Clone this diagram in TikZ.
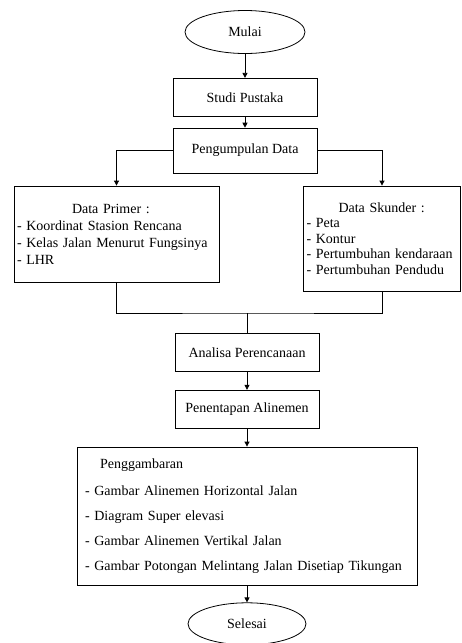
\documentclass[tikz,border=0pt]{standalone}
\usepackage{fontspec}
\setmainfont{Liberation Serif}
\usetikzlibrary{arrows.meta, positioning, shapes.geometric}

\begin{document}
\begin{tikzpicture}[
x=1pt, y=-1pt,
font=\fontsize{14}{17}\selectfont,
every path/.style={line width=0.8pt},
box/.style={draw, rectangle, minimum width=144pt, minimum height=38pt, inner sep=2pt, align=center},
listbox/.style={draw, rectangle, inner xsep=3pt, align=left},
terminal/.style={draw, ellipse, minimum width=120pt, minimum height=43pt, inner sep=0pt},
arrow/.style={-{Triangle[length=5pt, width=5pt]}} ]

\useasboundingbox (0,0) rectangle (462,643);

\node[terminal] (mulai) at (245,32) {Mulai};
\node[box, below=24pt of mulai] (studi) {Studi Pustaka};
\node[box, below=11pt of studi, minimum height=45pt] (kumpul) {Pengumpulan Data};

\node[listbox, minimum width=205pt, minimum height=96pt, text width=199pt] (primer) at (116.5,234)
{\hspace*{55pt}Data Primer :\\ - Koordinat Stasion Rencana\\ - Kelas Jalan Menurut Fungsinya\\ - LHR};
\node[listbox, minimum width=157pt, minimum height=105pt, text width=151pt,
 font=\fontsize{14}{15.5}\selectfont] (skunder) at (382,238.5)
{\hspace*{32pt}Data Skunder :\\ - Peta\\ - Kontur\\ - Pertumbuhan kendaraan\\ - Pertumbuhan Pendudu};

\coordinate (join) at (247,313);
\node[box, below=20pt of join] (analisa) {Analisa Perencanaan};
\node[box, below=18pt of analisa] (penentapan) {Penentapan Alinemen};
\node[listbox, below=18pt of penentapan, inner xsep=8pt, minimum height=138pt, text width=324pt] (gambar)
{\hspace*{15pt}Penggambaran\\[10pt] - Gambar Alinemen Horizontal Jalan\\[8pt] - Diagram Super elevasi\\[8pt]
 - Gambar Alinemen Vertikal Jalan\\[8pt] - Gambar Potongan Melintang Jalan Disetiap Tikungan};
\node[terminal, below=17pt of gambar, minimum width=118pt, minimum height=42pt] (selesai) {Selesai};

\draw[arrow] (mulai) -- (studi);
\draw[arrow] (studi) -- (kumpul);
\draw[arrow] (kumpul.west) -| (primer.north);
\draw[arrow] (kumpul.east) -| (skunder.north);
\draw (primer.south) |- (join) -| (skunder.south);
\draw (join) -- (analisa);
\draw[arrow] (analisa) -- (penentapan);
\draw[arrow] (penentapan) -- (gambar);
\draw[arrow] (gambar) -- (selesai);

\end{tikzpicture}
\end{document}
